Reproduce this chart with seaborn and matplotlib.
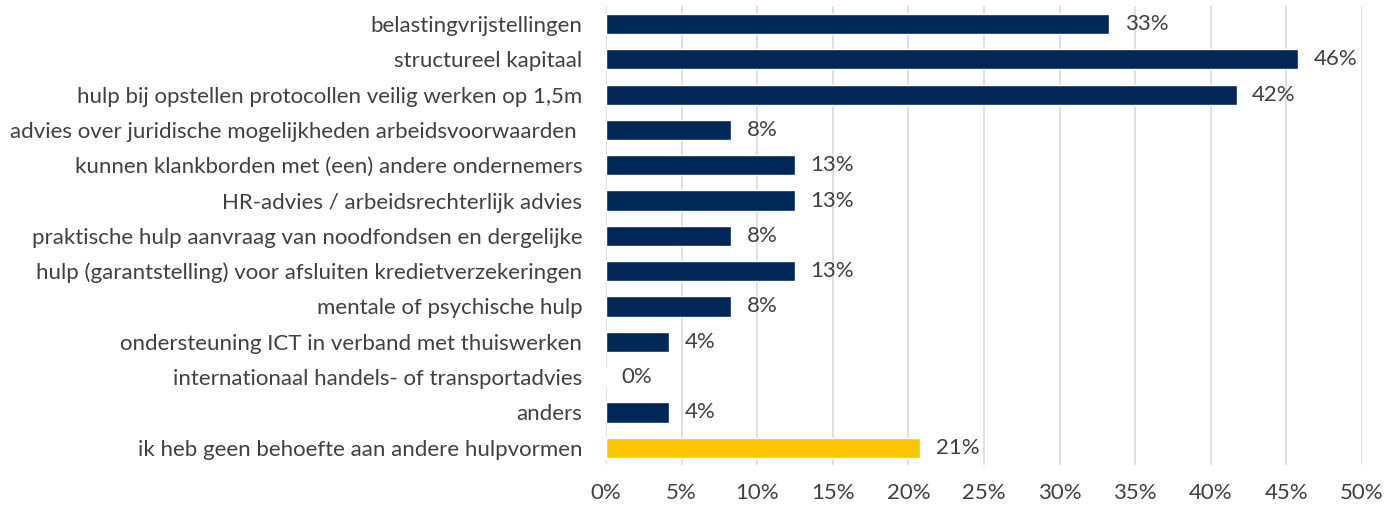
import matplotlib
matplotlib.use("Agg")
import matplotlib.pyplot as plt
import seaborn as sns
import pandas as pd

categories = [
    "belastingvrijstellingen",
    "structureel kapitaal",
    "hulp bij opstellen protocollen veilig werken op 1,5m",
    "advies over juridische mogelijkheden arbeidsvoorwaarden ",
    "kunnen klankborden met (een) andere ondernemers",
    "HR-advies / arbeidsrechterlijk advies",
    "praktische hulp aanvraag van noodfondsen en dergelijke",
    "hulp (garantstelling) voor afsluiten kredietverzekeringen",
    "mentale of psychische hulp",
    "ondersteuning ICT in verband met thuiswerken",
    "internationaal handels- of transportadvies",
    "anders",
    "ik heb geen behoefte aan andere hulpvormen",
]
values = [33.3, 45.8, 41.7, 8.3, 12.5, 12.5, 8.3, 12.5, 8.3, 4.2, 0.0, 4.2, 20.8]
value_labels = ["33%", "46%", "42%", "8%", "13%", "13%", "8%", "13%", "8%", "4%", "0%", "4%", "21%"]
x_ticks = [0, 5, 10, 15, 20, 25, 30, 35, 40, 45, 50]
x_tick_labels = ["0%", "5%", "10%", "15%", "20%", "25%", "30%", "35%", "40%", "45%", "50%"]

NAVY = "#002857"
YELLOW = "#FDC500"
TEXT = "#404040"
colors = [NAVY] * (len(categories) - 1) + [YELLOW]

sns.set_theme(style="white")
plt.rcParams["font.family"] = ["Lato", "DejaVu Sans"]

df = pd.DataFrame({"cat": categories, "val": values})

fig = plt.figure(figsize=(13.85, 5.07), dpi=100)
ax = fig.add_axes([0.4375, 0.082, 0.9834 - 0.4375, 0.9876 - 0.082])

sns.barplot(data=df, y="cat", x="val", hue="cat", palette=colors, legend=False,
            width=0.57, ax=ax, order=categories, hue_order=categories, saturation=1)

for cont, lab in zip(ax.containers, value_labels):
    ax.bar_label(cont, labels=[lab], padding=11, fontsize=16, color=TEXT)

ax.set_xlim(0, 50)
ax.set_xticks(x_ticks)
ax.set_xticklabels(x_tick_labels)
ax.set_xlabel("")
ax.set_ylabel("")
ax.grid(axis="x", color="#DCDCDC", linewidth=1.3)
ax.set_axisbelow(True)
for s in ax.spines.values():
    s.set_visible(False)
ax.tick_params(axis="y", length=0, pad=17, labelsize=16, labelcolor=TEXT)
ax.tick_params(axis="x", length=0, pad=13, labelsize=16, labelcolor=TEXT)

fig.savefig("out.png", dpi=100)
